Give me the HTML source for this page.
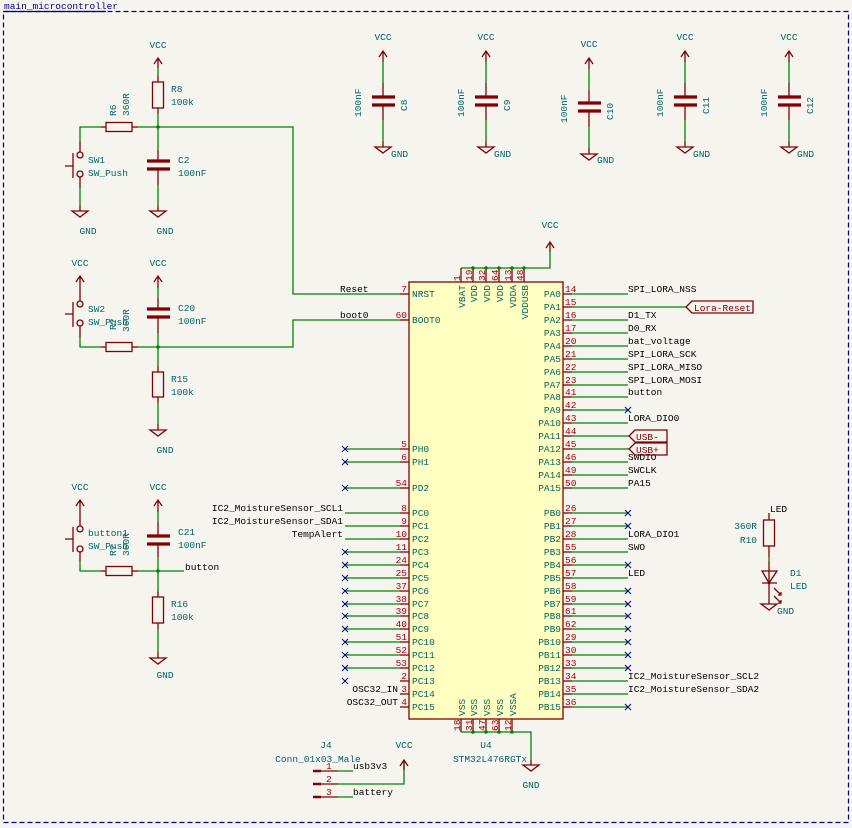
<!DOCTYPE html>
<html><head><meta charset="utf-8"><style>
html,body{margin:0;padding:0;background:#f5f4ef}
svg{display:block}
text{font-family:"Liberation Mono",monospace;font-size:9.5px}
.w{stroke:#008400;stroke-width:1.3;fill:none}
.p{stroke:#840000;stroke-width:1.3;fill:none}
.t{fill:#006464}
.n{fill:#a90000}
.k{fill:#000}
.x{stroke:#000084;stroke-width:1}
.cap{stroke:#840000;stroke-width:3.2}
</style></head><body>
<svg width="852" height="828" viewBox="0 0 852 828" xmlns="http://www.w3.org/2000/svg">
<rect x="0" y="0" width="852" height="828" fill="#f5f4ef"/>
<rect x="3.5" y="11.5" width="845" height="811" fill="none" stroke="#000084" stroke-width="1.2" stroke-dasharray="5,3"/>
<line x1="3" y1="11.5" x2="106" y2="11.5" stroke="#000084" stroke-width="1.2"/>
<text x="4" y="9" fill="#000084" font-size="9px">main_microcontroller</text>

<!-- ===== Reset circuit ===== -->
<text class="t" x="158" y="48" text-anchor="middle">VCC</text>
<path class="p" d="M154,64 L158,58 L162,64 M158,58 L158,68"/>
<line class="w" x1="158" y1="68" x2="158" y2="76"/>
<line class="p" x1="158" y1="76" x2="158" y2="82"/>
<rect class="p" x="152.5" y="82" width="11" height="26"/>
<line class="p" x1="158" y1="108" x2="158" y2="114"/>
<line class="w" x1="158" y1="114" x2="158" y2="150"/>
<text class="t" x="171" y="92">R8</text><text class="t" x="171" y="105">100k</text>
<circle cx="158" cy="127" r="1.8" fill="#008400"/>
<path class="w" d="M80,141 L80,127 L101,127 M138,127 L293,127 L293,294 L400,294"/>
<line class="p" x1="101" y1="127" x2="106" y2="127"/><line class="p" x1="132" y1="127" x2="138" y2="127"/>
<rect class="p" x="106" y="122.5" width="26" height="9"/>
<text class="t" transform="translate(116,116) rotate(-90)">R6</text>
<text class="t" transform="translate(129,116) rotate(-90)">360R</text>
<line class="p" x1="80" y1="141" x2="80" y2="152"/>
<circle class="p" cx="80" cy="155" r="3"/><circle class="p" cx="80" cy="174" r="3"/>
<path class="p" d="M73,153 L73,178 M65,166 L73,166"/>
<line class="p" x1="80" y1="177" x2="80" y2="188"/>
<line class="w" x1="80" y1="188" x2="80" y2="205"/>
<line class="p" x1="80" y1="205" x2="80" y2="211"/>
<path class="p" d="M72,211 L88,211 L80,217 Z"/>
<text class="t" x="88" y="234" text-anchor="middle">GND</text>
<text class="t" x="88" y="163">SW1</text><text class="t" x="88" y="176">SW_Push</text>
<line class="p" x1="158" y1="150" x2="158" y2="161"/>
<line class="cap" x1="147" y1="161" x2="170" y2="161"/><line class="cap" x1="147" y1="169" x2="170" y2="169"/>
<line class="p" x1="158" y1="169" x2="158" y2="185"/>
<line class="w" x1="158" y1="185" x2="158" y2="205"/>
<line class="p" x1="158" y1="205" x2="158" y2="211"/>
<path class="p" d="M150,211 L166,211 L158,217 Z"/>
<text class="t" x="165" y="234" text-anchor="middle">GND</text>
<text class="t" x="178" y="163">C2</text><text class="t" x="178" y="176">100nF</text>
<text class="k" x="340" y="292">Reset</text>

<!-- ===== Boot circuit ===== -->
<text class="t" x="80" y="266" text-anchor="middle">VCC</text>
<path class="p" d="M76,282 L80,276 L84,282 M80,276 L80,301"/>
<circle class="p" cx="80" cy="304" r="3"/><circle class="p" cx="80" cy="323" r="3"/>
<path class="p" d="M73,302 L73,327 M65,314 L73,314"/>
<line class="p" x1="80" y1="326" x2="80" y2="337"/>
<path class="w" d="M80,337 L80,347 L101,347 M138,347 L293,347 L293,320 L400,320"/>
<line class="p" x1="101" y1="347" x2="106" y2="347"/><line class="p" x1="132" y1="347" x2="138" y2="347"/>
<rect class="p" x="106" y="342.5" width="26" height="9"/>
<text class="t" x="88" y="312">SW2</text><text class="t" x="88" y="325">SW_Push</text>
<text class="t" transform="translate(116,330) rotate(-90)">R?</text>
<text class="t" transform="translate(129,332) rotate(-90)">360R</text>
<text class="t" x="158" y="266" text-anchor="middle">VCC</text>
<path class="p" d="M154,282 L158,276 L162,282 M158,276 L158,288"/>
<line class="w" x1="158" y1="288" x2="158" y2="298"/>
<line class="p" x1="158" y1="298" x2="158" y2="309"/>
<line class="cap" x1="147" y1="309" x2="170" y2="309"/><line class="cap" x1="147" y1="317" x2="170" y2="317"/>
<line class="p" x1="158" y1="317" x2="158" y2="333"/>
<line class="w" x1="158" y1="333" x2="158" y2="366"/>
<circle cx="158" cy="347" r="1.8" fill="#008400"/>
<text class="t" x="178" y="311">C20</text><text class="t" x="178" y="324">100nF</text>
<line class="p" x1="158" y1="366" x2="158" y2="372"/>
<rect class="p" x="152.5" y="372" width="11" height="25"/>
<line class="p" x1="158" y1="397" x2="158" y2="403"/>
<line class="w" x1="158" y1="403" x2="158" y2="424"/>
<line class="p" x1="158" y1="424" x2="158" y2="430"/>
<path class="p" d="M150,430 L166,430 L158,436 Z"/>
<text class="t" x="165" y="453" text-anchor="middle">GND</text>
<text class="t" x="171" y="382">R15</text><text class="t" x="171" y="395">100k</text>
<text class="k" x="340" y="318">boot0</text>

<!-- ===== Button circuit ===== -->
<text class="t" x="80" y="490" text-anchor="middle">VCC</text>
<path class="p" d="M76,506 L80,500 L84,506 M80,500 L80,526"/>
<circle class="p" cx="80" cy="529" r="3"/><circle class="p" cx="80" cy="549" r="3"/>
<path class="p" d="M73,527 L73,552 M65,539 L73,539"/>
<line class="p" x1="80" y1="552" x2="80" y2="561"/>
<path class="w" d="M80,561 L80,571 L101,571 M138,571 L184,571"/>
<line class="p" x1="101" y1="571" x2="106" y2="571"/><line class="p" x1="132" y1="571" x2="138" y2="571"/>
<rect class="p" x="106" y="566.5" width="26" height="9"/>
<text class="t" x="88" y="536">button1</text><text class="t" x="88" y="549">SW_Push</text>
<text class="t" transform="translate(116,556) rotate(-90)">R?</text>
<text class="t" transform="translate(129,556) rotate(-90)">360R</text>
<text class="t" x="158" y="490" text-anchor="middle">VCC</text>
<path class="p" d="M154,506 L158,500 L162,506 M158,500 L158,512"/>
<line class="w" x1="158" y1="512" x2="158" y2="522"/>
<line class="p" x1="158" y1="522" x2="158" y2="536"/>
<line class="cap" x1="147" y1="536" x2="170" y2="536"/><line class="cap" x1="147" y1="544" x2="170" y2="544"/>
<line class="p" x1="158" y1="544" x2="158" y2="557"/>
<line class="w" x1="158" y1="557" x2="158" y2="591"/>
<circle cx="158" cy="571" r="1.8" fill="#008400"/>
<text class="t" x="178" y="535">C21</text><text class="t" x="178" y="548">100nF</text>
<line class="p" x1="158" y1="591" x2="158" y2="597"/>
<rect class="p" x="152.5" y="597" width="11" height="26"/>
<line class="p" x1="158" y1="623" x2="158" y2="629"/>
<line class="w" x1="158" y1="629" x2="158" y2="652"/>
<line class="p" x1="158" y1="652" x2="158" y2="658"/>
<path class="p" d="M150,658 L166,658 L158,664 Z"/>
<text class="t" x="165" y="678" text-anchor="middle">GND</text>
<text class="t" x="171" y="607">R16</text><text class="t" x="171" y="620">100k</text>
<text class="k" x="185" y="570">button</text>

<!-- ===== Decoupling caps ===== -->
<g>
<text class="t" x="383" y="40" text-anchor="middle">VCC</text>
<path class="p" d="M379,57 L383,51 L387,57 M383,51 L383,62"/><line class="w" x1="383" y1="62" x2="383" y2="83"/>
<line class="p" x1="383" y1="83" x2="383" y2="97"/>
<line class="cap" x1="372" y1="97" x2="395" y2="97"/><line class="cap" x1="372" y1="105" x2="395" y2="105"/>
<line class="p" x1="383" y1="105" x2="383" y2="120"/><line class="w" x1="383" y1="120" x2="383" y2="141"/>
<line class="p" x1="383" y1="141" x2="383" y2="147"/><path class="p" d="M375,147 L391,147 L383,153 Z"/>
<text class="t" x="391" y="157">GND</text>
<text class="t" transform="translate(361,117) rotate(-90)">100nF</text>
<text class="t" transform="translate(407,111) rotate(-90)">C8</text>
</g>
<g>
<text class="t" x="486" y="40" text-anchor="middle">VCC</text>
<path class="p" d="M482,57 L486,51 L490,57 M486,51 L486,62"/><line class="w" x1="486" y1="62" x2="486" y2="83"/>
<line class="p" x1="486" y1="83" x2="486" y2="97"/>
<line class="cap" x1="475" y1="97" x2="498" y2="97"/><line class="cap" x1="475" y1="105" x2="498" y2="105"/>
<line class="p" x1="486" y1="105" x2="486" y2="120"/><line class="w" x1="486" y1="120" x2="486" y2="141"/>
<line class="p" x1="486" y1="141" x2="486" y2="147"/><path class="p" d="M478,147 L494,147 L486,153 Z"/>
<text class="t" x="494" y="157">GND</text>
<text class="t" transform="translate(464,117) rotate(-90)">100nF</text>
<text class="t" transform="translate(510,111) rotate(-90)">C9</text>
</g>
<g>
<text class="t" x="589" y="47" text-anchor="middle">VCC</text>
<path class="p" d="M585,64 L589,58 L593,64 M589,58 L589,69"/><line class="w" x1="589" y1="69" x2="589" y2="90"/>
<line class="p" x1="589" y1="90" x2="589" y2="103"/>
<line class="cap" x1="578" y1="103" x2="601" y2="103"/><line class="cap" x1="578" y1="111" x2="601" y2="111"/>
<line class="p" x1="589" y1="111" x2="589" y2="127"/><line class="w" x1="589" y1="127" x2="589" y2="148"/>
<line class="p" x1="589" y1="148" x2="589" y2="154"/><path class="p" d="M581,154 L597,154 L589,160 Z"/>
<text class="t" x="597" y="163">GND</text>
<text class="t" transform="translate(567,123) rotate(-90)">100nF</text>
<text class="t" transform="translate(613,120) rotate(-90)">C10</text>
</g>
<g>
<text class="t" x="685" y="40" text-anchor="middle">VCC</text>
<path class="p" d="M681,57 L685,51 L689,57 M685,51 L685,62"/><line class="w" x1="685" y1="62" x2="685" y2="83"/>
<line class="p" x1="685" y1="83" x2="685" y2="97"/>
<line class="cap" x1="674" y1="97" x2="697" y2="97"/><line class="cap" x1="674" y1="105" x2="697" y2="105"/>
<line class="p" x1="685" y1="105" x2="685" y2="120"/><line class="w" x1="685" y1="120" x2="685" y2="141"/>
<line class="p" x1="685" y1="141" x2="685" y2="147"/><path class="p" d="M677,147 L693,147 L685,153 Z"/>
<text class="t" x="693" y="157">GND</text>
<text class="t" transform="translate(663,117) rotate(-90)">100nF</text>
<text class="t" transform="translate(709,114) rotate(-90)">C11</text>
</g>
<g>
<text class="t" x="789" y="40" text-anchor="middle">VCC</text>
<path class="p" d="M785,57 L789,51 L793,57 M789,51 L789,62"/><line class="w" x1="789" y1="62" x2="789" y2="83"/>
<line class="p" x1="789" y1="83" x2="789" y2="97"/>
<line class="cap" x1="778" y1="97" x2="801" y2="97"/><line class="cap" x1="778" y1="105" x2="801" y2="105"/>
<line class="p" x1="789" y1="105" x2="789" y2="120"/><line class="w" x1="789" y1="120" x2="789" y2="141"/>
<line class="p" x1="789" y1="141" x2="789" y2="147"/><path class="p" d="M781,147 L797,147 L789,153 Z"/>
<text class="t" x="797" y="157">GND</text>
<text class="t" transform="translate(767,117) rotate(-90)">100nF</text>
<text class="t" transform="translate(813,114) rotate(-90)">C12</text>
</g>

<!-- ===== IC U4 ===== -->
<rect x="409" y="282" width="154" height="437" fill="#ffffc2" stroke="#840000" stroke-width="1.3"/>
<text class="t" x="550" y="228" text-anchor="middle">VCC</text>
<path class="p" d="M546,248 L550,242 L554,248 M550,242 L550,252"/>
<path class="w" d="M550,252 L550,268 L461,268"/>
<g class="p">
<line x1="461" y1="268" x2="461" y2="282"/><line x1="473" y1="268" x2="473" y2="282"/><line x1="486" y1="268" x2="486" y2="282"/>
<line x1="499" y1="268" x2="499" y2="282"/><line x1="512" y1="268" x2="512" y2="282"/><line x1="524" y1="268" x2="524" y2="282"/>
</g>
<g fill="#008400"><circle cx="473" cy="268" r="1.8"/><circle cx="486" cy="268" r="1.8"/><circle cx="499" cy="268" r="1.8"/><circle cx="512" cy="268" r="1.8"/><circle cx="524" cy="268" r="1.8"/></g>
<g class="n">
<text transform="translate(460,281) rotate(-90)">1</text><text transform="translate(472,281) rotate(-90)">19</text>
<text transform="translate(485,281) rotate(-90)">32</text><text transform="translate(498,281) rotate(-90)">64</text>
<text transform="translate(511,281) rotate(-90)">13</text><text transform="translate(523,281) rotate(-90)">48</text>
</g>
<g class="t" text-anchor="end">
<text transform="translate(465,285) rotate(-90)">VBAT</text><text transform="translate(477,285) rotate(-90)">VDD</text>
<text transform="translate(490,285) rotate(-90)">VDD</text><text transform="translate(503,285) rotate(-90)">VDD</text>
<text transform="translate(516,285) rotate(-90)">VDDA</text><text transform="translate(528,285) rotate(-90)">VDDUSB</text>
</g>
<g class="p">
<line x1="461" y1="719" x2="461" y2="732"/><line x1="473" y1="719" x2="473" y2="732"/><line x1="486" y1="719" x2="486" y2="732"/>
<line x1="499" y1="719" x2="499" y2="732"/><line x1="512" y1="719" x2="512" y2="732"/>
</g>
<path class="w" d="M461,732 L531,732 L531,760"/>
<line class="p" x1="531" y1="760" x2="531" y2="765"/>
<path class="p" d="M523,765 L539,765 L531,771 Z"/>
<text class="t" x="531" y="788" text-anchor="middle">GND</text>
<g fill="#008400"><circle cx="473" cy="732" r="1.8"/><circle cx="486" cy="732" r="1.8"/><circle cx="499" cy="732" r="1.8"/><circle cx="512" cy="732" r="1.8"/></g>
<g class="n">
<text transform="translate(460,731) rotate(-90)">18</text><text transform="translate(472,731) rotate(-90)">31</text>
<text transform="translate(485,731) rotate(-90)">47</text><text transform="translate(498,731) rotate(-90)">63</text>
<text transform="translate(511,731) rotate(-90)">12</text>
</g>
<g class="t">
<text transform="translate(465,716) rotate(-90)">VSS</text><text transform="translate(477,716) rotate(-90)">VSS</text>
<text transform="translate(490,716) rotate(-90)">VSS</text><text transform="translate(503,716) rotate(-90)">VSS</text>
<text transform="translate(516,716) rotate(-90)">VSSA</text>
</g>
<text class="t" x="486" y="748" text-anchor="middle">U4</text>
<text class="t" x="490" y="762" text-anchor="middle">STM32L476RGTx</text>

<g class="p">
<line x1="400" y1="294" x2="409" y2="294"/><line x1="400" y1="320" x2="409" y2="320"/>
<line x1="400" y1="449" x2="409" y2="449"/><line x1="400" y1="462" x2="409" y2="462"/><line x1="400" y1="488" x2="409" y2="488"/>
<line x1="400" y1="513" x2="409" y2="513"/><line x1="400" y1="526" x2="409" y2="526"/><line x1="400" y1="539" x2="409" y2="539"/>
<line x1="400" y1="552" x2="409" y2="552"/><line x1="400" y1="565" x2="409" y2="565"/><line x1="400" y1="578" x2="409" y2="578"/>
<line x1="400" y1="591" x2="409" y2="591"/><line x1="400" y1="604" x2="409" y2="604"/><line x1="400" y1="616" x2="409" y2="616"/>
<line x1="400" y1="629" x2="409" y2="629"/><line x1="400" y1="642" x2="409" y2="642"/><line x1="400" y1="655" x2="409" y2="655"/>
<line x1="400" y1="668" x2="409" y2="668"/><line x1="400" y1="681" x2="409" y2="681"/><line x1="400" y1="694" x2="409" y2="694"/>
<line x1="400" y1="707" x2="409" y2="707"/>
</g>
<g class="w">
<line x1="345" y1="449" x2="400" y2="449"/><line x1="345" y1="462" x2="400" y2="462"/><line x1="345" y1="488" x2="400" y2="488"/>
<line x1="345" y1="513" x2="400" y2="513"/><line x1="345" y1="526" x2="400" y2="526"/><line x1="345" y1="539" x2="400" y2="539"/>
<line x1="345" y1="552" x2="400" y2="552"/><line x1="345" y1="565" x2="400" y2="565"/><line x1="345" y1="578" x2="400" y2="578"/>
<line x1="345" y1="591" x2="400" y2="591"/><line x1="345" y1="604" x2="400" y2="604"/><line x1="345" y1="616" x2="400" y2="616"/>
<line x1="345" y1="629" x2="400" y2="629"/><line x1="345" y1="642" x2="400" y2="642"/><line x1="345" y1="655" x2="400" y2="655"/>
<line x1="345" y1="668" x2="400" y2="668"/>
</g>
<g class="n" text-anchor="end">
<text x="407" y="292">7</text><text x="407" y="318">60</text>
<text x="407" y="447">5</text><text x="407" y="460">6</text><text x="407" y="486">54</text>
<text x="407" y="511">8</text><text x="407" y="524">9</text><text x="407" y="537">10</text><text x="407" y="550">11</text>
<text x="407" y="563">24</text><text x="407" y="576">25</text><text x="407" y="589">37</text><text x="407" y="602">38</text>
<text x="407" y="614">39</text><text x="407" y="627">40</text><text x="407" y="640">51</text><text x="407" y="653">52</text>
<text x="407" y="666">53</text><text x="407" y="679">2</text><text x="407" y="692">3</text><text x="407" y="705">4</text>
</g>
<g class="t">
<text x="412" y="297">NRST</text><text x="412" y="323">BOOT0</text>
<text x="412" y="452">PH0</text><text x="412" y="465">PH1</text><text x="412" y="491">PD2</text>
<text x="412" y="516">PC0</text><text x="412" y="529">PC1</text><text x="412" y="542">PC2</text><text x="412" y="555">PC3</text>
<text x="412" y="568">PC4</text><text x="412" y="581">PC5</text><text x="412" y="594">PC6</text><text x="412" y="607">PC7</text>
<text x="412" y="619">PC8</text><text x="412" y="632">PC9</text><text x="412" y="645">PC10</text><text x="412" y="658">PC11</text>
<text x="412" y="671">PC12</text><text x="412" y="684">PC13</text><text x="412" y="697">PC14</text><text x="412" y="710">PC15</text>
</g>
<g class="k" text-anchor="end">
<text x="343" y="511">IC2_MoistureSensor_SCL1</text><text x="343" y="524">IC2_MoistureSensor_SDA1</text>
<text x="343" y="537">TempAlert</text>
<text x="398" y="692">OSC32_IN</text><text x="398" y="705">OSC32_OUT</text>
</g>
<g class="x">
<path d="M342,446 L348,452 M348,446 L342,452"/><path d="M342,459 L348,465 M348,459 L342,465"/><path d="M342,485 L348,491 M348,485 L342,491"/>
<path d="M342,549 L348,555 M348,549 L342,555"/><path d="M342,562 L348,568 M348,562 L342,568"/><path d="M342,575 L348,581 M348,575 L342,581"/>
<path d="M342,588 L348,594 M348,588 L342,594"/><path d="M342,601 L348,607 M348,601 L342,607"/><path d="M342,613 L348,619 M348,613 L342,619"/>
<path d="M342,626 L348,632 M348,626 L342,632"/><path d="M342,639 L348,645 M348,639 L342,645"/><path d="M342,652 L348,658 M348,652 L342,658"/>
<path d="M342,665 L348,671 M348,665 L342,671"/><path d="M342,678 L348,684 M348,678 L342,684"/>
</g>

<g class="p">
<line x1="563" y1="294" x2="572" y2="294"/><line x1="563" y1="307" x2="572" y2="307"/><line x1="563" y1="320" x2="572" y2="320"/>
<line x1="563" y1="333" x2="572" y2="333"/><line x1="563" y1="346" x2="572" y2="346"/><line x1="563" y1="359" x2="572" y2="359"/>
<line x1="563" y1="372" x2="572" y2="372"/><line x1="563" y1="385" x2="572" y2="385"/><line x1="563" y1="397" x2="572" y2="397"/>
<line x1="563" y1="410" x2="572" y2="410"/><line x1="563" y1="423" x2="572" y2="423"/><line x1="563" y1="436" x2="572" y2="436"/>
<line x1="563" y1="449" x2="572" y2="449"/><line x1="563" y1="462" x2="572" y2="462"/><line x1="563" y1="475" x2="572" y2="475"/>
<line x1="563" y1="488" x2="572" y2="488"/>
<line x1="563" y1="513" x2="572" y2="513"/><line x1="563" y1="526" x2="572" y2="526"/><line x1="563" y1="539" x2="572" y2="539"/>
<line x1="563" y1="552" x2="572" y2="552"/><line x1="563" y1="565" x2="572" y2="565"/><line x1="563" y1="578" x2="572" y2="578"/>
<line x1="563" y1="591" x2="572" y2="591"/><line x1="563" y1="604" x2="572" y2="604"/><line x1="563" y1="616" x2="572" y2="616"/>
<line x1="563" y1="629" x2="572" y2="629"/><line x1="563" y1="642" x2="572" y2="642"/><line x1="563" y1="655" x2="572" y2="655"/>
<line x1="563" y1="668" x2="572" y2="668"/><line x1="563" y1="681" x2="572" y2="681"/><line x1="563" y1="694" x2="572" y2="694"/>
<line x1="563" y1="707" x2="572" y2="707"/>
</g>
<g class="w">
<line x1="572" y1="294" x2="628" y2="294"/><line x1="572" y1="307" x2="686" y2="307"/><line x1="572" y1="320" x2="628" y2="320"/>
<line x1="572" y1="333" x2="628" y2="333"/><line x1="572" y1="346" x2="628" y2="346"/><line x1="572" y1="359" x2="628" y2="359"/>
<line x1="572" y1="372" x2="628" y2="372"/><line x1="572" y1="385" x2="628" y2="385"/><line x1="572" y1="397" x2="628" y2="397"/>
<line x1="572" y1="410" x2="628" y2="410"/><line x1="572" y1="423" x2="628" y2="423"/><line x1="572" y1="436" x2="629" y2="436"/>
<line x1="572" y1="449" x2="629" y2="449"/><line x1="572" y1="462" x2="628" y2="462"/><line x1="572" y1="475" x2="628" y2="475"/>
<line x1="572" y1="488" x2="628" y2="488"/>
<line x1="572" y1="513" x2="628" y2="513"/><line x1="572" y1="526" x2="628" y2="526"/><line x1="572" y1="539" x2="628" y2="539"/>
<line x1="572" y1="552" x2="628" y2="552"/><line x1="572" y1="565" x2="628" y2="565"/><line x1="572" y1="578" x2="628" y2="578"/>
<line x1="572" y1="591" x2="628" y2="591"/><line x1="572" y1="604" x2="628" y2="604"/><line x1="572" y1="616" x2="628" y2="616"/>
<line x1="572" y1="629" x2="628" y2="629"/><line x1="572" y1="642" x2="628" y2="642"/><line x1="572" y1="655" x2="628" y2="655"/>
<line x1="572" y1="668" x2="628" y2="668"/><line x1="572" y1="681" x2="628" y2="681"/><line x1="572" y1="694" x2="628" y2="694"/>
<line x1="572" y1="707" x2="628" y2="707"/>
</g>
<g class="n">
<text x="565" y="292">14</text><text x="565" y="305">15</text><text x="565" y="318">16</text><text x="565" y="331">17</text>
<text x="565" y="344">20</text><text x="565" y="357">21</text><text x="565" y="370">22</text><text x="565" y="383">23</text>
<text x="565" y="395">41</text><text x="565" y="408">42</text><text x="565" y="421">43</text><text x="565" y="434">44</text>
<text x="565" y="447">45</text><text x="565" y="460">46</text><text x="565" y="473">49</text><text x="565" y="486">50</text>
<text x="565" y="511">26</text><text x="565" y="524">27</text><text x="565" y="537">28</text><text x="565" y="550">55</text>
<text x="565" y="563">56</text><text x="565" y="576">57</text><text x="565" y="589">58</text><text x="565" y="602">59</text>
<text x="565" y="614">61</text><text x="565" y="627">62</text><text x="565" y="640">29</text><text x="565" y="653">30</text>
<text x="565" y="666">33</text><text x="565" y="679">34</text><text x="565" y="692">35</text><text x="565" y="705">36</text>
</g>
<g class="t" text-anchor="end">
<text x="561" y="297">PA0</text><text x="561" y="310">PA1</text><text x="561" y="323">PA2</text><text x="561" y="336">PA3</text>
<text x="561" y="349">PA4</text><text x="561" y="362">PA5</text><text x="561" y="375">PA6</text><text x="561" y="388">PA7</text>
<text x="561" y="400">PA8</text><text x="561" y="413">PA9</text><text x="561" y="426">PA10</text><text x="561" y="439">PA11</text>
<text x="561" y="452">PA12</text><text x="561" y="465">PA13</text><text x="561" y="478">PA14</text><text x="561" y="491">PA15</text>
<text x="561" y="516">PB0</text><text x="561" y="529">PB1</text><text x="561" y="542">PB2</text><text x="561" y="555">PB3</text>
<text x="561" y="568">PB4</text><text x="561" y="581">PB5</text><text x="561" y="594">PB6</text><text x="561" y="607">PB7</text>
<text x="561" y="619">PB8</text><text x="561" y="632">PB9</text><text x="561" y="645">PB10</text><text x="561" y="658">PB11</text>
<text x="561" y="671">PB12</text><text x="561" y="684">PB13</text><text x="561" y="697">PB14</text><text x="561" y="710">PB15</text>
</g>
<g class="k">
<text x="628" y="292">SPI_LORA_NSS</text><text x="628" y="318">D1_TX</text><text x="628" y="331">D0_RX</text>
<text x="628" y="344">bat_voltage</text><text x="628" y="357">SPI_LORA_SCK</text><text x="628" y="370">SPI_LORA_MISO</text>
<text x="628" y="383">SPI_LORA_MOSI</text><text x="628" y="395">button</text><text x="628" y="421">LORA_DIO0</text>
<text x="628" y="460">SWDIO</text><text x="628" y="473">SWCLK</text><text x="628" y="486">PA15</text>
<text x="628" y="537">LORA_DIO1</text><text x="628" y="550">SWO</text><text x="628" y="576">LED</text>
<text x="628" y="679">IC2_MoistureSensor_SCL2</text><text x="628" y="692">IC2_MoistureSensor_SDA2</text>
</g>
<g class="x">
<path d="M625,407 L631,413 M631,407 L625,413"/>
<path d="M625,510 L631,516 M631,510 L625,516"/><path d="M625,523 L631,529 M631,523 L625,529"/>
<path d="M625,562 L631,568 M631,562 L625,568"/>
<path d="M625,588 L631,594 M631,588 L625,594"/><path d="M625,601 L631,607 M631,601 L625,607"/>
<path d="M625,613 L631,619 M631,613 L625,619"/><path d="M625,626 L631,632 M631,626 L625,632"/>
<path d="M625,639 L631,645 M631,639 L625,645"/><path d="M625,652 L631,658 M631,652 L625,658"/>
<path d="M625,665 L631,671 M631,665 L625,671"/><path d="M625,704 L631,710 M631,704 L625,710"/>
</g>
<path class="p" d="M686,307 L692,301 L753,301 L753,313 L692,313 Z"/>
<text x="694" y="311" fill="#840000">Lora-Reset</text>
<path class="p" d="M629,436 L635,430 L667,430 L667,442 L635,442 Z"/>
<text x="636" y="440" fill="#840000">USB-</text>
<path class="p" d="M629,449 L635,443 L667,443 L667,455 L635,455 Z"/>
<text x="636" y="453" fill="#840000">USB+</text>

<!-- LED circuit -->
<text class="k" x="770" y="512">LED</text>
<line class="p" x1="769" y1="513" x2="769" y2="520"/>
<rect class="p" x="763.5" y="520" width="11" height="26"/>
<line class="p" x1="769" y1="546" x2="769" y2="557"/>
<line class="w" x1="769" y1="557" x2="769" y2="561"/>
<line class="p" x1="769" y1="561" x2="769" y2="604"/>
<path class="p" d="M762,571 L777,571 L769,583 Z M762,583 L777,583"/>
<circle cx="769" cy="583" r="1.3" fill="#840000"/>
<path class="p" d="M774,588 L781,595 M778,595 L781,595 L781,592 M774,596 L781,603 M778,603 L781,603 L781,600"/>
<path class="p" d="M761,604 L777,604 L769,610 Z"/>
<text class="t" x="777" y="614">GND</text>
<text class="t" x="757" y="529" text-anchor="end">360R</text>
<text class="t" x="757" y="543" text-anchor="end">R10</text>
<text class="t" x="790" y="576">D1</text><text class="t" x="790" y="589">LED</text>

<!-- J4 -->
<text class="t" x="326" y="748" text-anchor="middle">J4</text>
<text class="t" x="318" y="762" text-anchor="middle">Conn_01x03_Male</text>
<g>
<line x1="313" y1="771" x2="321" y2="771" stroke="#840000" stroke-width="2.5"/>
<line x1="313" y1="784" x2="321" y2="784" stroke="#840000" stroke-width="2.5"/>
<line x1="313" y1="797" x2="321" y2="797" stroke="#840000" stroke-width="2.5"/>
<line class="p" x1="321" y1="771" x2="338" y2="771"/><line class="p" x1="321" y1="784" x2="338" y2="784"/><line class="p" x1="321" y1="797" x2="338" y2="797"/>
</g>
<g class="n"><text x="326" y="769">1</text><text x="326" y="782">2</text><text x="326" y="795">3</text></g>
<path class="w" d="M338,771 L353,771 M338,797 L353,797 M338,784 L404,784 L404,760"/>
<path class="p" d="M400,766 L404,760 L408,766 M404,760 L404,770"/>
<text class="t" x="404" y="748" text-anchor="middle">VCC</text>
<text class="k" x="353" y="769">usb3v3</text>
<text class="k" x="353" y="795">battery</text>
</svg>
</body></html>
